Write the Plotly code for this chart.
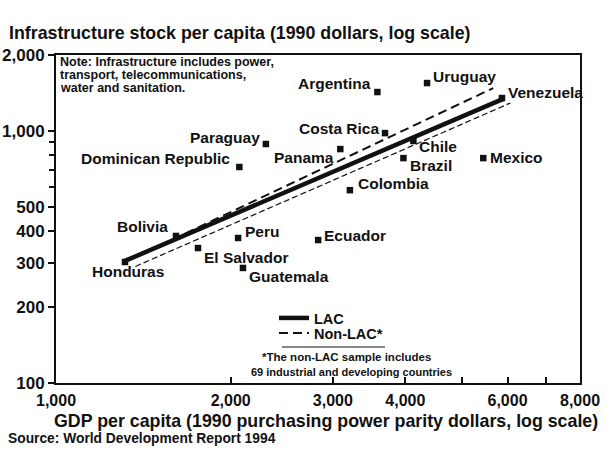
import numpy as np
import plotly.graph_objects as go

# Country observations: GDP per capita (1990 PPP $) vs infrastructure stock per capita (1990 $)
countries = ["Honduras", "Bolivia", "El Salvador", "Peru", "Guatemala", "Ecuador",
             "Colombia", "Panama", "Costa Rica", "Argentina", "Uruguay", "Venezuela",
             "Chile", "Brazil", "Mexico", "Paraguay", "Dominican Republic"]
gdp = [1315, 1610, 1757, 2060, 2100, 2830, 3210, 3090, 3690, 3580, 4360, 5870,
       4130, 3970, 5450, 2300, 2070]
infra = [302, 383, 343, 376, 286, 369, 582, 847, 980, 1426, 1548, 1350,
         912, 780, 780, 887, 719]

# Fitted regression lines (end points)
lac_gdp = [1315, 5900]
lac_infra = [305, 1340]
nonlac_gdp = [1510, 5670]
nonlac_infra = [351, 1479]
lower_gdp = [1370, 6070]
lower_infra = [290, 1290]

# Axis ticks
x_ticks = [1000, 2000, 3000, 4000, 5000, 6000, 7000, 8000]
x_tick_text = ["1,000", "2,000", "3,000", "4,000", "", "6,000", "", "8,000"]
y_ticks = [100, 200, 300, 400, 500, 1000, 2000]
y_tick_text = ["100", "200", "300", "400", "500", "1,000", "2,000"]
y_minor = [600, 700, 800, 900]

# Label placement for each country: (xanchor, xshift px, yshift px)
label_pos = {
    "Honduras": ("center", 3, -10),
    "Bolivia": ("right", -6, 9),
    "El Salvador": ("left", 4, -9),
    "Peru": ("left", 5, 6),
    "Guatemala": ("left", 4, -9),
    "Ecuador": ("left", 4, 5),
    "Colombia": ("left", 6, 7),
    "Panama": ("right", -4, -8),
    "Costa Rica": ("right", -4, 5),
    "Argentina": ("right", -4, 9),
    "Uruguay": ("left", 4, 7),
    "Venezuela": ("left", 4, 6),
    "Chile": ("left", 4, -6),
    "Brazil": ("left", 5, -7),
    "Mexico": ("left", 5, 1),
    "Paraguay": ("right", -4, 7),
    "Dominican Republic": ("right", -7, 9),
}

FONT = "Liberation Sans, Arial, sans-serif"
INK = "#111111"

# Plot-area geometry in pixels, used to place paper-referenced notes
L, R, T, B = 56, 580, 55, 383


def px(xp):
    return (xp - L) / (R - L)


def py(yp):
    return (B - yp) / (B - T)


fig = go.Figure()

fig.add_trace(go.Scatter(
    x=lac_gdp, y=lac_infra, mode="lines", name="LAC", legend="legend",
    line=dict(color=INK, width=4.5)))
fig.add_trace(go.Scatter(
    x=nonlac_gdp, y=nonlac_infra, mode="lines", name="Non-LAC*", legend="legend2",
    line=dict(color=INK, width=2, dash="9px,5px")))
fig.add_trace(go.Scatter(
    x=lower_gdp, y=lower_infra, mode="lines",
    line=dict(color=INK, width=1.2, dash="6px,3px"), showlegend=False))
fig.add_trace(go.Scatter(
    x=gdp, y=infra, mode="markers",
    marker=dict(symbol="square", size=6.5, color=INK), showlegend=False))

annotations = []
for name, gx, iy in zip(countries, gdp, infra):
    anchor, dx, dy = label_pos[name]
    annotations.append(dict(
        x=np.log10(gx), y=np.log10(iy), xref="x", yref="y", text=name,
        showarrow=False, xanchor=anchor, yanchor="middle", xshift=dx, yshift=dy,
        font=dict(family=FONT, size=15.5, color=INK, weight="bold")))


def note(text, x, y, size, anchor="left"):
    return dict(text=text, x=px(x), y=py(y), xref="paper", yref="paper",
                xanchor=anchor, yanchor="middle", showarrow=False,
                font=dict(family=FONT, size=size, color=INK, weight="bold"))


annotations += [
    note("Infrastructure stock per capita (1990 dollars, log scale)", 7, 33, 17.8),
    note("GDP per capita (1990 purchasing power parity dollars, log scale)", 52, 421, 17.8),
    note("Source: World Development Report 1994", 6, 438, 13.8),
    note("Note: Infrastructure includes power,", 58, 62, 12.5),
    note("transport, telecommunications,", 58, 75, 12.5),
    note("water and sanitation.", 58, 88, 12.5),
    note("*The non-LAC sample includes", 346, 357, 11.5, "center"),
    note("69 industrial and developing countries", 351, 372, 11, "center"),
]

shapes = [dict(type="line", xref="paper", yref="paper",
               x0=px(282), x1=px(385), y0=py(347), y1=py(347),
               line=dict(color=INK, width=1))]

legend_style = dict(xanchor="left", yanchor="top", bgcolor="rgba(0,0,0,0)",
                    borderwidth=0, itemwidth=30,
                    font=dict(family=FONT, size=14.5, color=INK, weight="bold"))

fig.update_layout(
    width=606, height=449,
    margin=dict(l=L, r=606 - R, t=T, b=449 - B),
    paper_bgcolor="white", plot_bgcolor="white",
    font=dict(family=FONT, color=INK),
    annotations=annotations, shapes=shapes,
    legend=dict(x=px(274), y=py(302), **legend_style),
    legend2=dict(x=px(274), y=py(317), **legend_style),
    xaxis=dict(type="log", range=[3, np.log10(8000)], automargin=False,
               tickvals=x_ticks, ticktext=x_tick_text,
               ticks="inside", ticklen=6, tickwidth=1.5, tickcolor=INK,
               ticklabelstandoff=2,
               showline=True, linecolor=INK, linewidth=2, mirror=True,
               showgrid=False, zeroline=False,
               tickfont=dict(family=FONT, size=16, color=INK, weight="bold")),
    yaxis=dict(type="log", range=[2, np.log10(2000)], automargin=False,
               tickvals=y_ticks, ticktext=y_tick_text,
               ticks="outside", ticklen=6, tickwidth=1.5, tickcolor=INK,
               minor=dict(tickvals=y_minor, ticks="outside", ticklen=5,
                          tickwidth=1.5, tickcolor=INK, showgrid=False),
               showline=True, linecolor=INK, linewidth=2, mirror=True,
               showgrid=False, zeroline=False,
               tickfont=dict(family=FONT, size=17, color=INK, weight="bold")),
)

fig.write_html("out.html")
